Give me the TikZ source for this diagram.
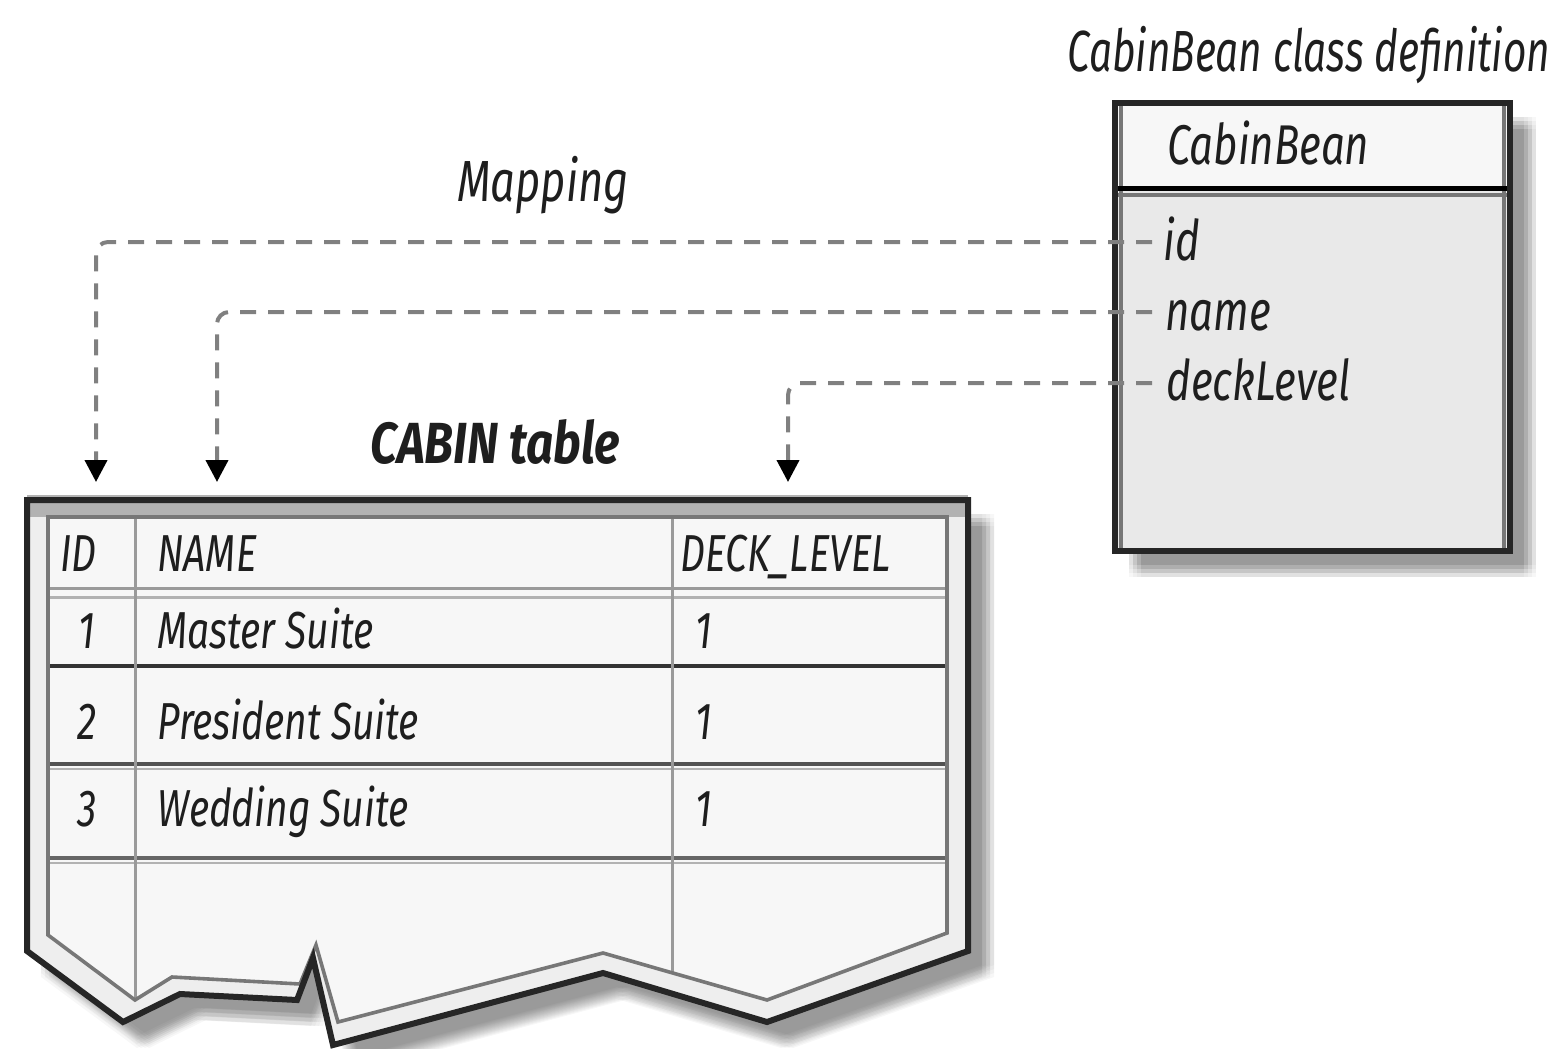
\documentclass[tikz,border=0pt]{standalone}
\usepackage{fontspec}
\newfontfamily\myf[FakeStretch=0.75]{Fira Sans}
\newfontfamily\myfT[FakeStretch=0.70]{Fira Sans}
\newfontfamily\myfB[FakeStretch=0.82]{Fira Sans}
\usetikzlibrary{arrows.meta}
\definecolor{ink}{HTML}{1E1E1E}
\definecolor{dashgray}{HTML}{808080}
\definecolor{headfill}{HTML}{F7F7F7}
\definecolor{bodyfill}{HTML}{E9E9E9}
\definecolor{bandlight}{HTML}{EEEEEE}
\definecolor{bandmid}{HTML}{B2B2B2}
\definecolor{linegray}{HTML}{9A9A9A}
\definecolor{innergray}{HTML}{777777}
\newcommand\tornshape[1]{\path[#1] (27,500) -- (968,500) -- (968,951) -- (767,1022) -- (603,973) -- (333,1045) -- (313,958) -- (297,1000) -- (180,994) -- (123,1022) -- (27,951) -- cycle;}
\newcommand\innershape[1]{\path[#1] (48,517) -- (947,517) -- (947,933) -- (767,1000) -- (603,953) -- (338,1022) -- (316,945) -- (300,984) -- (172,977) -- (135,1000) -- (48,935) -- cycle;}
\begin{document}
\begin{tikzpicture}[x=0.5pt,y=-0.5pt,
  txt/.style={anchor=base west, inner sep=0pt, text=ink},
  attr/.style={txt, font=\myf\itshape\fontsize{28}{33}\selectfont},
  celltxt/.style={txt, font=\myf\itshape\fontsize{26}{31}\selectfont},
  map/.style={draw=dashgray, line width=2pt, dash pattern=on 8pt off 6pt, rounded corners=6pt,
    -{Triangle[width=11pt,length=11pt,color=black]}}]
\useasboundingbox (0,0) rectangle (1566,1048);

% ---------- class box shadow ----------
\foreach \dx in {-6,-2,2,6}{\foreach \dy in {-6,-2,2,6}{
  \fill[black, opacity=0.03] ({1115+20+\dx},{103+20+\dy}) rectangle ({1510+20+\dx},{551+20+\dy});
}}
% ---------- class box ----------
\fill[headfill] (1115,103) rectangle (1510,190);
\fill[bodyfill] (1115,190) rectangle (1510,551);
\draw[innergray, line width=2pt] (1121,106) -- (1121,548) (1504,106) -- (1504,548) (1118,195) -- (1507,195);
\draw[black, line width=2.5pt] (1115,189) -- (1510,189);
\draw[black!85, line width=3pt] (1115,103) rectangle (1510,551);

% ---------- table shadow ----------
\foreach \dx in {-6,-2,2,6}{\foreach \dy in {-6,-2,2,6}{
  \tornshape{fill=black, opacity=0.03, shift={({20+\dx},{20+\dy})}}
}}
% ---------- table ----------
\tornshape{fill=bandlight}
\fill[bandmid] (28,500) rectangle (967,517);
\draw[bandmid, line width=1.5pt] (27,496) -- (968,496);
\innershape{fill=headfill}
\begin{scope}
  \innershape{clip}
  \draw[linegray, line width=1.5pt] (48,588) -- (947,588);
  \draw[bandmid, line width=1.5pt] (48,597) -- (947,597);
  \draw[black!80, line width=2pt] (48,666) -- (947,666);
  \draw[black!68, line width=2pt] (48,764) -- (947,764);
  \draw[bandmid, line width=1pt] (48,769) -- (947,769);
  \draw[black!60, line width=2pt] (48,858) -- (947,858);
  \draw[bandmid, line width=1pt] (48,863) -- (947,863);
  \draw[linegray, line width=1.5pt] (135,517) -- (135,1050) (672,517) -- (672,1050);
\end{scope}
\innershape{draw=innergray, line width=1.8pt}
\tornshape{draw=black!85, line width=3pt}

% ---------- texts ----------
\node[txt, font=\myfT\itshape\fontsize{29}{34}\selectfont] (title) at (1067,72) {CabinBean class definition};
\node[txt, font=\myf\itshape\fontsize{29}{34}\selectfont] (mapping) at (457,202) {Mapping};
\node[txt, font=\myfB\bfseries\itshape\fontsize{29}{34}\selectfont] (tabtitle) at (370,463) {CABIN table};
\node[attr] (cname) at (1167,165) {CabinBean};
\node[attr] (aid) at (1163,260) {id};
\node[attr] (aname) at (1165,330) {name};
\node[attr] (adeck) at (1166,400) {deckLevel};

\node[celltxt] (hid) at (60,571) {ID};
\node[celltxt] (hname) at (157,571) {NAME};
\node[celltxt] (hdeck) at (680,571) {DECK\_LEVEL};
\node[celltxt, anchor=base] (r1id) at (87,648) {1};
\node[celltxt, anchor=base] (r2id) at (87,739) {2};
\node[celltxt, anchor=base] (r3id) at (87,826) {3};
\node[celltxt] (r1name) at (157,648) {Master Suite};
\node[celltxt] (r2name) at (157,739) {President Suite};
\node[celltxt] (r3name) at (157,826) {Wedding Suite};
\node[celltxt] (r1deck) at (695,648) {1};
\node[celltxt] (r2deck) at (695,739) {1};
\node[celltxt] (r3deck) at (695,826) {1};

% ---------- mapping connectors ----------
\coordinate (idend) at (1152,242);
\coordinate (nameend) at (1152,312);
\coordinate (deckend) at (1152,383);
\coordinate (idtip) at (96,482);
\coordinate (nametip) at (217,482);
\coordinate (decktip) at (788,482);
\draw[map] (idend) -| (idtip);
\draw[map] (nameend) -| (nametip);
\draw[map] (deckend) -| (decktip);
\end{tikzpicture}
\end{document}
